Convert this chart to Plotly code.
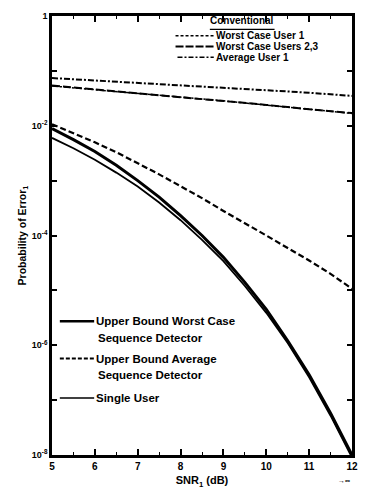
import plotly.graph_objects as go

# ---------------- data ----------------
snr_conv = [5, 6, 7, 8, 9, 10, 11, 12]
conv_worst_user1 = [0.074, 0.067, 0.060, 0.054, 0.049, 0.044, 0.040, 0.035]
conv_worst_users23 = [0.054, 0.046, 0.040, 0.034, 0.029, 0.024, 0.020, 0.017]
conv_avg_user1 = [0.053, 0.0455, 0.0395, 0.0335, 0.0285, 0.0238, 0.0198, 0.0168]

snr = [5, 5.5, 6, 6.5, 7, 7.5, 8, 8.5, 9, 9.5, 10, 10.5, 11, 11.5, 12]
ub_worst_seq = [8.9e-3, 5.6e-3, 3.4e-3, 1.9e-3, 1.0e-3, 5.0e-4, 2.3e-4, 1.0e-4,
                4.0e-5, 1.4e-5, 4.5e-6, 1.2e-6, 2.9e-7, 5.8e-8, 1.0e-8]
ub_avg_seq = [1.07e-2, 7.4e-3, 5.0e-3, 3.3e-3, 2.1e-3, 1.3e-3, 7.9e-4, 4.8e-4,
              2.8e-4, 1.7e-4, 1.0e-4, 5.9e-5, 3.5e-5, 2.0e-5, 1.07e-5]
single_user = [6.0e-3, 3.9e-3, 2.4e-3, 1.4e-3, 7.8e-4, 4.0e-4, 1.9e-4, 8.3e-5,
               3.4e-5, 1.2e-5, 3.9e-6, 1.1e-6, 2.6e-7, 5.2e-8, 9.0e-9]

x_ticks = [5, 6, 7, 8, 9, 10, 11, 12]
x_minor = [5.5, 6.5, 7.5, 8.5, 9.5, 10.5, 11.5]
y_tickvals = [1, 1e-2, 1e-4, 1e-6, 1e-8]
y_ticktext = ["1", "10<sup>-2</sup>", "10<sup>-4</sup>", "10<sup>-6</sup>", "10<sup>-8</sup>"]
y_minor = [1e-1, 1e-3, 1e-5, 1e-7]

# ---------------- figure ----------------
W, H = 369, 497
ML, MR, MT, MB = 52, 11, 12, 39
PW, PH = W - ML - MR, H - MT - MB

FONT = "Liberation Sans"
K = "black"

def px(xp):
    return (xp - ML) / PW

def py(yp):
    return (H - MB - yp) / PH

fig = go.Figure()

def add(x, y, name, width, dash):
    fig.add_trace(go.Scatter(x=x, y=y, mode="lines", name=name, showlegend=False,
                             line=dict(color=K, width=width, dash=dash)))

add(snr_conv, conv_worst_user1, "Worst Case User 1", 2, "6px,2px,2px,2px")
add(snr_conv, conv_worst_users23, "Worst Case Users 2,3", 2, "8px,3px")
add(snr_conv, conv_avg_user1, "Average User 1", 1.5, "6px,2px,2px,2px")
add(snr, ub_avg_seq, "Upper Bound Average Sequence Detector", 2.2, "6px,3px")
add(snr, ub_worst_seq, "Upper Bound Worst Case Sequence Detector", 3, "solid")
add(snr, single_user, "Single User", 1.8, "solid")

fig.update_xaxes(
    range=[5, 12], tickvals=x_ticks, ticktext=[str(v) for v in x_ticks],
    ticks="inside", ticklen=6, tickwidth=1.5, tickcolor=K,
    minor=dict(tickvals=x_minor, ticks="inside", ticklen=3, tickwidth=1, tickcolor=K),
    showline=True, linewidth=3, linecolor=K, mirror="ticks",
    showgrid=False, zeroline=False,
    tickfont=dict(family=FONT, size=10, color=K, weight="bold"),
    title=dict(text="SNR<sub>1</sub> (dB)", standoff=6,
               font=dict(family=FONT, size=11, color=K, weight="bold")),
)
fig.update_yaxes(
    type="log", range=[-8, 0], tickvals=y_tickvals, ticktext=y_ticktext,
    ticks="inside", ticklen=5, tickwidth=1.5, tickcolor=K,
    minor=dict(tickvals=y_minor, ticks="inside", ticklen=5, tickwidth=1.5, tickcolor=K),
    showline=True, linewidth=2.5, linecolor=K, mirror="ticks",
    showgrid=False, zeroline=False,
    tickfont=dict(family=FONT, size=9, color=K, weight="bold"),
    title=dict(text="Probability of Error<sub>1</sub>", standoff=4,
               font=dict(family=FONT, size=10.5, color=K, weight="bold")),
)

shapes = []
annots = []

def key(x0, x1, yp, width, dash):
    shapes.append(dict(type="line", xref="paper", yref="paper",
                       x0=px(x0), x1=px(x1), y0=py(yp), y1=py(yp),
                       line=dict(color=K, width=width, dash=dash)))

def label(xp, yp, text, size=10, anchor="left"):
    annots.append(dict(xref="paper", yref="paper", x=px(xp), y=py(yp), text=text,
                       showarrow=False, xanchor=anchor, yanchor="middle",
                       font=dict(family=FONT, size=size, color=K, weight="bold")))

# Conventional legend (top right)
label(246, 17, "Conventional", 10, "center")
key(213, 279, 25.5, 1.2, "solid")  # underline of the legend title
key(178, 217, 32, 1.5, "3px,2px")
label(217, 32, "Worst Case User 1", 10)
key(178, 217, 43, 2, "8px,2px")
label(217, 43, "Worst Case Users 2,3", 10)
key(180, 217, 54, 1.5, "5px,2px,2px,2px")
label(217, 54, "Average User 1", 10)

# Sequence detector legend (bottom left)
key(60, 95, 322, 2.5, "solid")
label(95, 322, "Upper Bound Worst Case", 11.5)
label(97, 339, "Sequence Detector", 11.5)
key(60, 95, 360, 2, "4px,2px")
label(95, 360, "Upper Bound Average", 11.5)
label(97, 377, "Sequence Detector", 11.5)
key(60, 95, 400, 1.5, "solid")
label(95, 400, "Single User", 11.5)

# small mark below the 12 label
label(350, 484, "→∞", 7, "center")

fig.update_layout(
    width=W, height=H, autosize=False,
    margin=dict(l=ML, r=MR, t=MT, b=MB),
    paper_bgcolor="white", plot_bgcolor="white",
    shapes=shapes, annotations=annots, showlegend=False,
)

fig.write_html("out.html")
